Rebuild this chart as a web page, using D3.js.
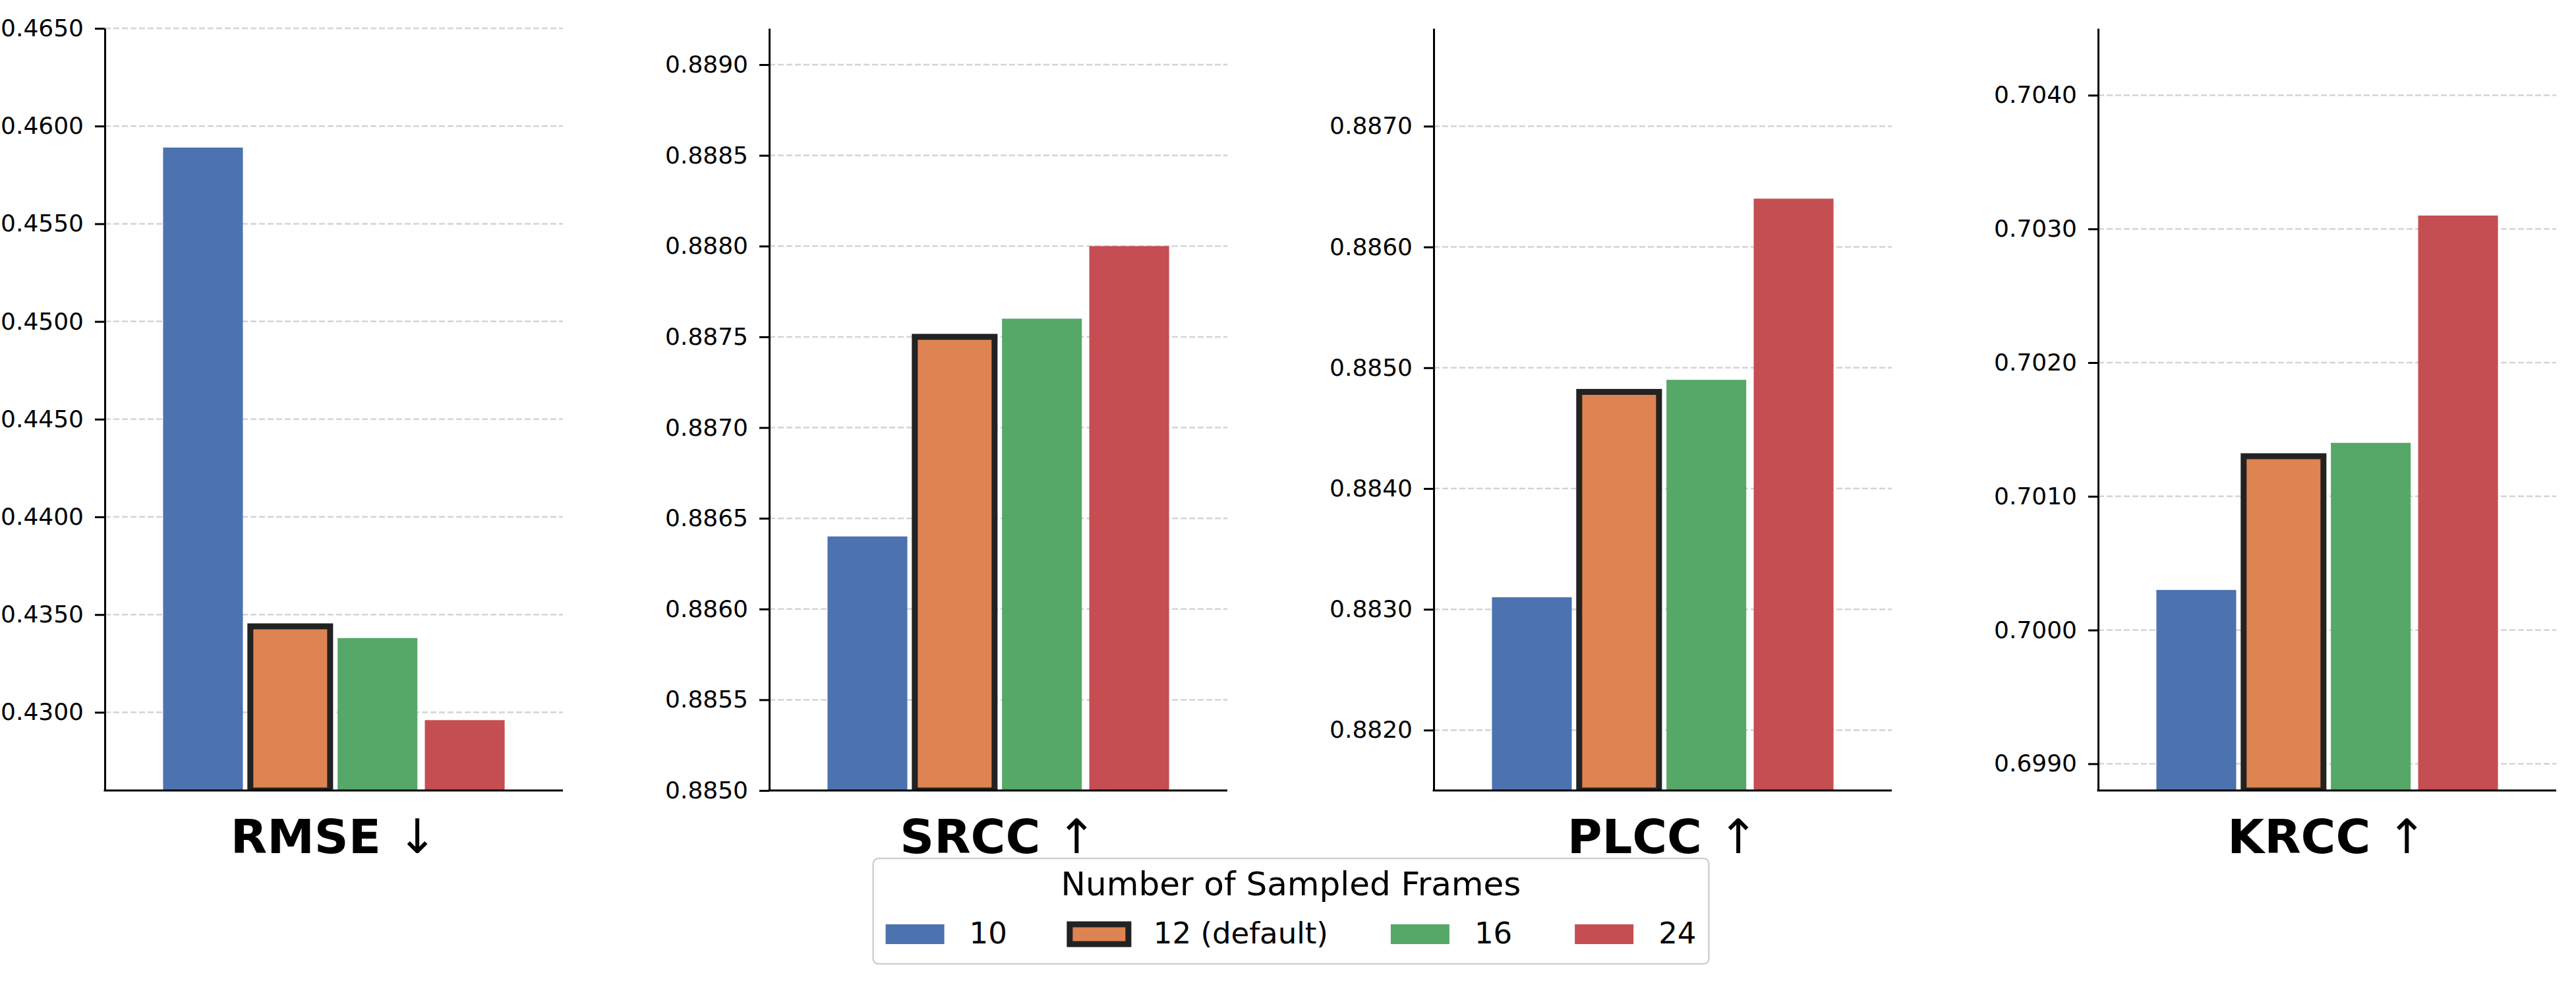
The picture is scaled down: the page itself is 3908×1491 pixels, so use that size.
<!DOCTYPE html>
<html lang="en">
<head>
<meta charset="UTF-8" />
<title>Number of Sampled Frames</title>
<script src="https://d3js.org/d3.v7.min.js"></script>
<style>
  body { margin: 0; padding: 0; background: white; }
  svg { display: block; font-family: "DejaVu Sans", sans-serif; }
</style>
</head>
<body>
<svg id="chart" width="3908" height="1491"></svg>
<script>
// values
const metricNames = ["RMSE", "SRCC", "PLCC", "KRCC"];
const metricArrows = ["↓", "↑", "↑", "↑"];
const frames = ["10", "12 (default)", "16", "24"];
const rmse = [0.4589, 0.4344, 0.4338, 0.4296];
const srcc = [0.8864, 0.8875, 0.8876, 0.8880];
const plcc = [0.8831, 0.8848, 0.8849, 0.8864];
const krcc = [0.7003, 0.7013, 0.7014, 0.7031];

// y limits and tick values of each panel
const yLimits = [[0.4260, 0.4650], [0.8850, 0.8892], [0.8815, 0.88781], [0.6988, 0.70450]];
const rmseTicks = [0.4300, 0.4350, 0.4400, 0.4450, 0.4500, 0.4550, 0.4600, 0.4650];
const srccTicks = [0.8850, 0.8855, 0.8860, 0.8865, 0.8870, 0.8875, 0.8880, 0.8885, 0.8890];
const plccTicks = [0.8820, 0.8830, 0.8840, 0.8850, 0.8860, 0.8870];
const krccTicks = [0.6990, 0.7000, 0.7010, 0.7020, 0.7030, 0.7040];

const colors = ["#4C72B0", "#DD8452", "#55A868", "#C44E52"];
const highlight = "12 (default)";

const series = [rmse, srcc, plcc, krcc];
const tickSets = [rmseTicks, srccTicks, plccTicks, krccTicks];

const svg = d3.select("#chart");
const panelLeft = 159, panelStep = 1008, W = 695, plotTop = 43, H = 1156;

const color = d3.scaleOrdinal().domain(frames).range(colors);
const x = d3.scaleBand().domain(frames).range([0, W])
  .paddingInner(0.0855).paddingOuter(0.668);

metricNames.forEach((name, i) => {
  const g = svg.append("g")
    .attr("transform", `translate(${panelLeft + i * panelStep},${plotTop})`);

  const y = d3.scaleLinear().domain(yLimits[i]).range([H, 0]);

  // grid
  g.append("g").selectAll("line")
    .data(tickSets[i])
    .join("line")
    .attr("x1", 0).attr("x2", W)
    .attr("y1", d => y(d)).attr("y2", d => y(d))
    .attr("stroke", "#d4d4d4")
    .attr("stroke-width", 2.5)
    .attr("stroke-dasharray", "9,4");

  // clip bars at the bottom of the axes
  const clipId = "clip" + i;
  g.append("clipPath").attr("id", clipId)
    .append("rect").attr("x", -20).attr("y", -40).attr("width", W + 40).attr("height", H + 40);

  const rows = frames.map((f, j) => ({ frame: f, value: series[i][j] }));
  g.append("g").attr("clip-path", `url(#${clipId})`)
    .selectAll("rect")
    .data(rows)
    .join("rect")
    .attr("x", d => x(d.frame))
    .attr("width", x.bandwidth())
    .attr("y", d => y(d.value))
    .attr("height", d => H - y(d.value))
    .attr("fill", d => color(d.frame))
    .attr("stroke", d => d.frame === highlight ? "#222222" : "none")
    .attr("stroke-width", 9);

  // y axis
  const axis = g.append("g")
    .call(d3.axisLeft(y)
      .tickValues(tickSets[i])
      .tickFormat(d3.format(".4f"))
      .tickSize(15)
      .tickSizeOuter(0)
      .tickPadding(17));
  axis.select(".domain").attr("stroke", "#000").attr("stroke-width", 3);
  axis.selectAll(".tick line").attr("stroke", "#000").attr("stroke-width", 3);
  axis.selectAll(".tick text")
    .attr("fill", "#000")
    .style("font-size", "36px")
    .style("font-family", "'DejaVu Sans', sans-serif");

  // bottom spine
  g.append("line")
    .attr("x1", -1.5).attr("x2", W)
    .attr("y1", H).attr("y2", H)
    .attr("stroke", "#000").attr("stroke-width", 3);

  // metric label
  const t = g.append("text")
    .attr("x", W / 2).attr("y", 1294 - plotTop)
    .attr("text-anchor", "middle")
    .style("font-size", "72px")
    .style("font-weight", "bold");
  t.append("tspan").text(name + " ");
  t.append("tspan").style("font-weight", "normal").text(metricArrows[i]);
});

// legend
const legend = svg.append("g");
const patchW = 89, patchH = 30, textPad = 38, colGap = 95, boxPad = 19;
const centerX = 1958.5;

const box = legend.append("rect");
legend.append("text")
  .attr("x", centerX).attr("y", 1358)
  .attr("text-anchor", "middle")
  .style("font-size", "50px")
  .text("Number of Sampled Frames");

const items = legend.selectAll("g.item")
  .data(frames)
  .join("g")
  .attr("class", "item");

items.append("rect")
  .attr("width", patchW).attr("height", patchH)
  .attr("y", 1402)
  .attr("fill", d => color(d))
  .attr("stroke", d => d === highlight ? "#222222" : "none")
  .attr("stroke-width", 9);

items.append("text")
  .attr("y", 1431)
  .style("font-size", "45px")
  .text(d => d);

const widths = [];
items.select("text").each(function () { widths.push(this.getComputedTextLength()); });
const totalW = d3.sum(widths) + frames.length * (patchW + textPad) + (frames.length - 1) * colGap;
let cx = centerX - totalW / 2;
items.each(function (d, j) {
  const item = d3.select(this);
  item.select("rect").attr("x", cx);
  item.select("text").attr("x", cx + patchW + textPad);
  cx += patchW + textPad + widths[j] + colGap;
});

box.attr("x", centerX - totalW / 2 - boxPad)
  .attr("y", 1302)
  .attr("width", totalW + 2 * boxPad)
  .attr("height", 160)
  .attr("rx", 8)
  .attr("fill", "white")
  .attr("stroke", "#d0d0d0")
  .attr("stroke-width", 2.5);
</script>
</body>
</html>
